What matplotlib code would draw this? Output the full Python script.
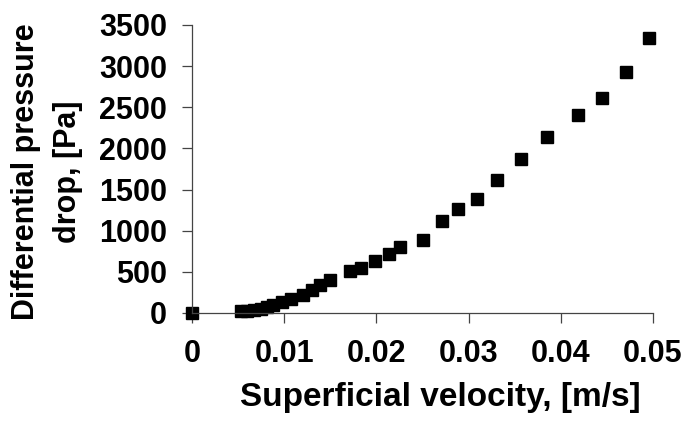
import matplotlib
matplotlib.use("Agg")
import matplotlib.pyplot as plt

# superficial velocity [m/s] and differential pressure drop [Pa]
velocity = [0.0, 0.0053, 0.0060, 0.0067, 0.0075, 0.0081, 0.0088, 0.0098, 0.0107,
            0.0120, 0.0130, 0.0139, 0.0150, 0.0171, 0.0183, 0.0198, 0.0214,
            0.0226, 0.0250, 0.0271, 0.0289, 0.0309, 0.0331, 0.0357, 0.0385,
            0.0419, 0.0445, 0.0471, 0.0496]
pressure = [0, 24, 24, 36, 49, 73, 97, 134, 170, 219, 280, 340, 401, 505, 541,
            626, 711, 803, 888, 1119, 1261, 1383, 1614, 1876, 2140, 2404, 2611,
            2927, 3340]

x_ticks = [0, 0.01, 0.02, 0.03, 0.04, 0.05]
x_tick_labels = ["0", "0.01", "0.02", "0.03", "0.04", "0.05"]
y_ticks = [0, 500, 1000, 1500, 2000, 2500, 3000, 3500]

plt.rcParams['font.family'] = ['Liberation Sans', 'DejaVu Sans']
plt.rcParams['font.weight'] = 'bold'

W, H = 689, 428
fig = plt.figure(figsize=(W / 100, H / 100), dpi=100)
ax = fig.add_axes([192 / W, 1 - 313 / H, (653 - 192) / W, (313 - 25) / H])

ax.plot(velocity, pressure, linestyle='none', marker='s', markersize=8.6,
        color='black', clip_on=False)

ax.set_xlim(0, 0.05)
ax.set_ylim(0, 3500)
ax.set_xticks(x_ticks)
ax.set_xticklabels(x_tick_labels)
ax.set_yticks(y_ticks)

for side in ['top', 'right']:
    ax.spines[side].set_visible(False)
for side in ['left', 'bottom']:
    ax.spines[side].set_color('#444444')
    ax.spines[side].set_linewidth(0.9)

ax.tick_params(axis='both', direction='out', length=7, width=0.9, color='#444444',
               labelsize=22)
ax.tick_params(axis='x', pad=12)
ax.tick_params(axis='y', pad=11)
for lab in ax.get_xticklabels() + ax.get_yticklabels():
    lab.set_fontweight('bold')

fig.text(440 / W, 1 - 406 / H, "Superficial velocity, [m/s]", ha='center',
         va='baseline', fontsize=24, fontweight='bold')
fig.text(47 / W, 1 - 172 / H, "Differential pressure\ndrop, [Pa]", rotation=90,
         ha='center', va='center', multialignment='center', fontsize=22,
         fontweight='bold', linespacing=1.5)

fig.savefig("out.png", dpi=100)
